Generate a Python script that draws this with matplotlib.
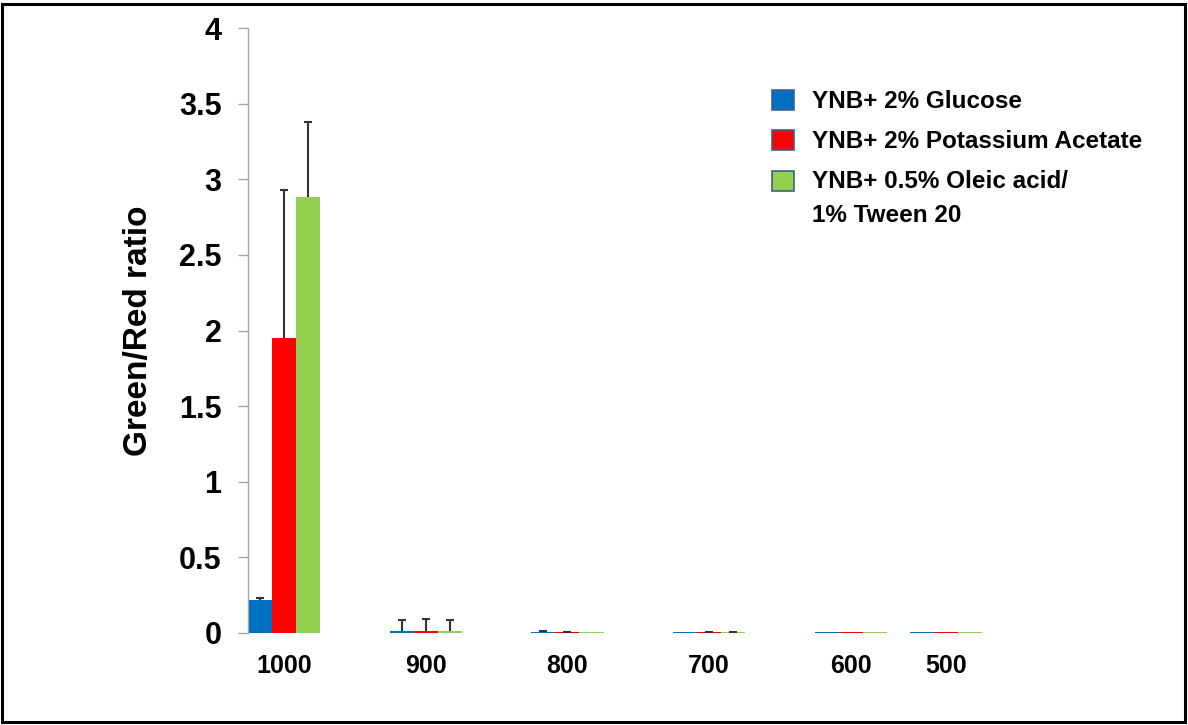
import numpy as np
import matplotlib
matplotlib.use("Agg")
from matplotlib import pyplot as plt
from matplotlib.patches import Rectangle

# data
categories = ["1000", "900", "800", "700", "600", "500"]
glucose = [0.22, 0.012, 0.005, 0.004, 0.004, 0.004]
glucose_err = [0.010, 0.075, 0.005, 0.0, 0.0, 0.0]
acetate = [1.95, 0.014, 0.005, 0.004, 0.004, 0.004]
acetate_err = [0.98, 0.080, 0.004, 0.004, 0.0, 0.0]
oleic = [2.88, 0.012, 0.005, 0.004, 0.004, 0.004]
oleic_err = [0.50, 0.075, 0.0, 0.004, 0.0, 0.0]

series_names = ["YNB+ 2% Glucose",
                "YNB+ 2% Potassium Acetate",
                "YNB+ 0.5% Oleic acid/\n1% Tween 20"]
colors = ["#0070C0", "#FF0000", "#92D050"]

# group centres (the last group sits closer in the original)
group_pos = np.array([0, 1, 2, 3, 4, 4.67])
bar_w = 0.17

plt.rcParams['font.family'] = ['Liberation Sans', 'DejaVu Sans']
plt.rcParams['font.weight'] = 'bold'

fig = plt.figure(figsize=(11.88, 7.25), dpi=100)
ax = fig.add_axes([248/1188, 1 - 633/725, 872/1188, (633 - 28)/725])

all_vals = [glucose, acetate, oleic]
all_errs = [glucose_err, acetate_err, oleic_err]
for i, (vals, errs) in enumerate(zip(all_vals, all_errs)):
    x = group_pos + (i - 1) * bar_w
    up = np.array(errs, dtype=float)
    up[up == 0] = np.nan  # no bar where no error was drawn
    bc = ax.bar(x, vals, width=bar_w, color=colors[i], label=series_names[i],
                yerr=[np.zeros(len(up)), up],
                error_kw=dict(ecolor="#333333", elinewidth=1.5, capsize=3, capthick=1.5))
    # only the upper cap is shown
    caps = bc.errorbar.lines[1]
    if len(caps) == 2:
        caps[0].set_visible(False)

ax.set_xlim(-0.254, 5.9)
ax.set_ylim(0, 4)
ax.set_yticks(np.arange(0, 4.01, 0.5))
ax.set_yticklabels(["0", "0.5", "1", "1.5", "2", "2.5", "3", "3.5", "4"])
ax.set_xticks(group_pos)
ax.set_xticklabels(categories, fontsize=18, fontweight="bold")
ax.tick_params(axis="x", length=0, pad=15)
ax.tick_params(axis="y", length=7, width=1, color="#A6A6A6", labelsize=22, pad=12)
for lbl in ax.get_yticklabels():
    lbl.set_fontweight("bold")

for s in ["top", "right", "bottom"]:
    ax.spines[s].set_visible(False)
ax.spines["left"].set_color("#A6A6A6")
ax.spines["left"].set_linewidth(1)

ax.set_ylabel("Green/Red ratio", fontsize=24, fontweight="bold", labelpad=18)

leg = ax.legend(loc="upper left", bbox_to_anchor=(750/1188, 1 - 68/725),
                bbox_transform=fig.transFigure, frameon=False,
                prop=dict(size=17.5, weight="bold"),
                handlelength=0.9, handleheight=0.9, handletextpad=0.75,
                labelspacing=0.68)
for t in leg.get_texts():
    t.set_linespacing(1.6)
for h in leg.legend_handles:
    h.set_edgecolor("#3F5F8F")
    h.set_linewidth(1.2)
# marker of the two-line entry sits next to its first line
leg.legend_handles[2].set_y(leg.legend_handles[2].get_y() + 12.6)

# black frame round the picture
fig.patches.append(Rectangle((1.5/1188, 3.5/725), 1183/1188, 718/725,
                             transform=fig.transFigure, fill=False,
                             edgecolor="black", linewidth=2.2))

plt.savefig("out.png", dpi=100)
